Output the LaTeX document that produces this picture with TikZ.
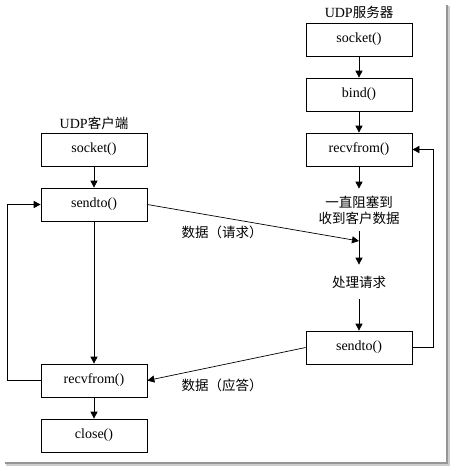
\documentclass[tikz,border=0pt]{standalone}
\usepackage{fontspec}
\setmainfont{Liberation Serif}
\newfontfamily\cjk{Noto Sans CJK SC}
\usepackage{tikz}
\usetikzlibrary{arrows.meta}
\definecolor{frameshade}{RGB}{150, 150, 150}
\definecolor{frameglow}{RGB}{205, 205, 205}
\newcommand{\zh}[1]{{\cjk\fontsize{13.5}{18}\selectfont #1}}

\begin{document}
\begin{tikzpicture}[x=1pt, y=-1pt, line width=0.7pt,
  font=\fontsize{14}{17}\selectfont,
  callbox/.style={draw, minimum width=106pt, minimum height=33pt, inner sep=0pt},
  flowtext/.style={inner sep=0pt, align=center},
  flow/.style={-{Triangle[length=7pt, width=7pt]}}]

  \useasboundingbox (0, 0) rectangle (455, 471);

  % shadow of the frame
  \draw[frameglow, line width=1.5pt] (449, 6) -- (449, 465) -- (6, 465);
  \draw[frameshade, line width=2pt] (446.5, 5) -- (446.5, 463) -- (5, 463);

  % client side
  \node[flowtext] (clabel) at (94, 123) {UDP\zh{客户端}};
  \node[callbox] (csock)  at (94, 149.5) {socket()};
  \node[callbox] (csend)  at (94, 204.5) {sendto()};
  \node[callbox] (crecv)  at (94, 380.5) {recvfrom()};
  \node[callbox] (cclose) at (94, 435.5) {close()};

  % server side
  \node[flowtext] (slabel) at (359, 12) {UDP\zh{服务器}};
  \node[callbox] (ssock) at (359, 39.5) {socket()};
  \node[callbox] (sbind) at (359, 94.5) {bind()};
  \node[callbox] (srecv) at (359, 149.5) {recvfrom()};
  \node[flowtext, minimum height=42pt] (wait) at (359, 210) {\zh{一直阻塞到}\\[-1pt]\zh{收到客户数据}};
  \node[flowtext, minimum height=34pt] (proc) at (359, 282) {\zh{处理请求}};
  \node[callbox] (ssend) at (359, 347.5) {sendto()};
  \coordinate (arrive) at (359, 241);

  \draw[flow] (csock) -- (csend);
  \draw[flow] (csend) -- (crecv);
  \draw[flow] (crecv) -- (cclose);
  \draw[flow] (crecv.west) -- ++(-33, 0) |- (csend.west);

  \draw[flow] (ssock) -- (sbind);
  \draw[flow] (sbind) -- (srecv);
  \draw[flow] (srecv) -- (wait);
  \draw[flow] (wait) -- (proc);
  \draw[flow] (proc) -- (ssend);
  \draw[flow] (ssend.east) -- ++(21, 0) |- (srecv.east);

  % datagrams between the two sides
  \draw[flow] (csend.east) -- (arrive);
  \draw[flow] (ssend.west) -- (crecv.east);
  \node[flowtext] (req) at (222, 232) {\zh{数据（请求）}};
  \node[flowtext] (ans) at (222, 385) {\zh{数据（应答）}};

\end{tikzpicture}
\end{document}
